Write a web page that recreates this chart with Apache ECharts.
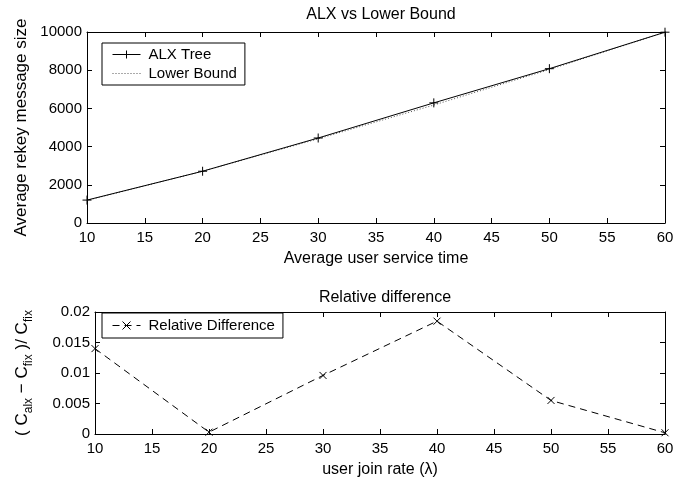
<!DOCTYPE html>
<html><head><meta charset="utf-8">
<script src="https://cdn.jsdelivr.net/npm/echarts@6/dist/echarts.min.js"></script>
<style>html,body{margin:0;padding:0;background:#fff}#c{width:695px;height:483px}</style>
</head><body><div id="c"></div>
<script>
var serviceTime = [10, 20, 30, 40, 50, 60];
var alxTree = [1200, 2710, 4450, 6290, 8080, 9990];
var lowerBound = [1183, 2709, 4408, 6176, 8036, 9988];
var joinRate = [10, 20, 30, 40, 50, 60];
var relDiff = [0.0140, 0.0003, 0.0096, 0.0185, 0.0055, 0.0002];

var FONT = '"Liberation Sans", Arial, sans-serif';
var plusSym = 'path://M0,5L10,5M5,0L5,10';
var crossSym = 'path://M0,0L10,10M0,10L10,0';
function pairs(xs, ys){ return xs.map(function(x,i){return [x, ys[i]];}); }
function plain(v){ return String(v); }

function xAx(grid, top, name, nameGap){
  return {
    type:'value', gridIndex:grid, min:10, max:60, interval:5,
    position: top ? 'top' : 'bottom',
    name: top ? '' : name, nameLocation:'middle', nameGap:nameGap,
    nameTextStyle:{color:'#000', fontSize:16, fontFamily:FONT},
    axisLine:{show:true, onZero:false, lineStyle:{color:'#000', width:1}},
    axisTick:{show:true, inside:true, length:5, lineStyle:{color:'#000'}},
    axisLabel:{show:!top, color:'#000', fontSize:15, fontFamily:FONT, margin:7, formatter:plain},
    splitLine:{show:false}
  };
}
function yAx(grid, right, min, max, interval, name, nameGap, rich){
  var o = {
    type:'value', gridIndex:grid, min:min, max:max, interval:interval,
    position: right ? 'right' : 'left',
    name: right ? '' : name, nameLocation:'middle', nameGap:nameGap,
    nameTextStyle:{color:'#000', fontSize:17, fontFamily:FONT},
    axisLine:{show:true, onZero:false, lineStyle:{color:'#000', width:1}},
    axisTick:{show:true, inside:true, length:5, lineStyle:{color:'#000'}},
    axisLabel:{show:!right, color:'#000', fontSize:15, fontFamily:FONT, margin:5, formatter:plain},
    splitLine:{show:false}
  };
  if (rich) o.nameTextStyle.rich = rich;
  return o;
}
function legendBase(){
  return {
    orient:'vertical', left:102, borderColor:'#000', borderWidth:1,
    itemWidth:28, itemHeight:10, backgroundColor:'#fff',
    lineStyle:{width:1}, itemStyle:{borderWidth:1, borderColor:'#000'},
    textStyle:{color:'#000', fontSize:15, fontFamily:FONT, padding:[0,0,0,3]}
  };
}
var lg1 = legendBase();
lg1.data = ['ALX Tree', {name:'Lower Bound', itemStyle:{color:'rgba(0,0,0,0)', borderColor:'rgba(0,0,0,0)', borderWidth:0}}];
lg1.top = 43; lg1.padding = [4,8,4,10]; lg1.itemGap = 4;
var lg2 = legendBase(); lg2.data = ['Relative Difference']; lg2.top = 313; lg2.padding = [5,8,5,10];

var chart = echarts.init(document.getElementById('c'), null, {renderer:'canvas'});
chart.setOption({
  animation:false,
  backgroundColor:'#fff',
  title:[
    {text:'ALX vs Lower Bound', left:376, textAlign:'center', top:2,
     textStyle:{color:'#000', fontSize:16, fontWeight:'normal', fontFamily:FONT}},
    {text:'Relative difference', left:380, textAlign:'center', top:285,
     textStyle:{color:'#000', fontSize:16, fontWeight:'normal', fontFamily:FONT}}
  ],
  grid:[
    {left:87, right:30, top:32, height:191},
    {left:95, right:30, top:312, height:122}
  ],
  xAxis:[
    xAx(0,false,'Average user service time',28),
    xAx(0,true,'',0),
    xAx(1,false,'user join rate (λ)',28),
    xAx(1,true,'',0)
  ],
  yAxis:[
    yAx(0,false,0,10000,2000,'Average rekey message size',56),
    yAx(0,true,0,10000,2000,'',0),
    yAx(1,false,0,0.02,0.005,'( C{s|alx} − C{s|fix} )/ C{s|fix}',60,
        {s:{fontSize:12, fontFamily:FONT, color:'#000', verticalAlign:'bottom', lineHeight:26}}),
    yAx(1,true,0,0.02,0.005,'',0)
  ],
  legend:[lg1, lg2],
  series:[
    {name:'ALX Tree', type:'line', xAxisIndex:0, yAxisIndex:0, data:pairs(serviceTime, alxTree),
     symbol:plusSym, symbolSize:9, showSymbol:true,
     lineStyle:{color:'#000', width:1},
     itemStyle:{color:'#000', borderColor:'#000', borderWidth:1}, z:3},
    {name:'Lower Bound', type:'line', xAxisIndex:0, yAxisIndex:0, data:pairs(serviceTime, lowerBound),
     symbol:'circle', showSymbol:false, lineStyle:{color:'#555', width:1, type:[1,2]},
     itemStyle:{color:'#555'}, z:2},
    {name:'Relative Difference', type:'line', xAxisIndex:2, yAxisIndex:2, data:pairs(joinRate, relDiff),
     symbol:crossSym, symbolSize:7, showSymbol:true,
     lineStyle:{color:'#000', width:1, type:[7,5]},
     itemStyle:{color:'#000', borderColor:'#000', borderWidth:1}, z:3}
  ]
});
</script></body></html>
